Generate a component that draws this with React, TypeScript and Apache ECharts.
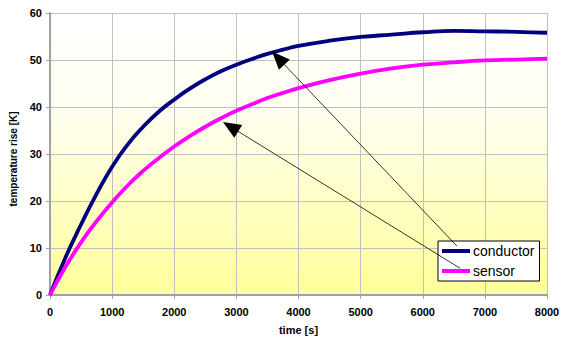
import React, { useEffect, useRef } from "react";
import * as echarts from "echarts";

const timeS = [0, 250, 500, 750, 1000, 1250, 1500, 1750, 2000, 2250, 2500, 2750, 3000, 3250, 3500, 3750, 4000, 4500, 5000, 5500, 6000, 6500, 7000, 7500, 8000];
const conductor = [0, 8, 15, 21.5, 27.3, 32, 35.8, 39, 41.6, 43.9, 45.9, 47.6, 49.0, 50.2, 51.3, 52.2, 53.0, 54.1, 54.9, 55.4, 55.9, 56.2, 56.1, 56.0, 55.8];
const sensor = [0, 6, 11.2, 15.7, 19.7, 23.3, 26.4, 29.1, 31.6, 33.8, 35.8, 37.6, 39.2, 40.6, 41.9, 43, 44, 45.7, 47.1, 48.2, 49, 49.5, 49.9, 50.1, 50.3];
const conductorArrow = [[6551, 10.4], [3673, 50.4]];
const sensorArrow = [[6600, 5.7], [2907, 35.8]];

export default function App() {
  const ref = useRef<HTMLDivElement>(null);
  useEffect(() => {
    const chart = echarts.init(ref.current!, null, { renderer: "svg" });
    const font = "Arial, 'Liberation Sans', sans-serif";
    chart.setOption({
      animation: false,
      textStyle: { fontFamily: font },
      grid: {
        left: 50, right: 21, top: 13, bottom: 44,
        show: true,
        borderWidth: 0,
        backgroundColor: {
          type: "linear", x: 0, y: 0, x2: 0, y2: 1,
          colorStops: [
            { offset: 0, color: "#ffffff" },
            { offset: 0.35, color: "#fefef0" },
            { offset: 1, color: "#ffff99" },
          ],
        },
      },
      legend: {
        data: ["conductor", "sensor"],
        orient: "vertical",
        left: 438,
        top: 241,
        z: 3,
        backgroundColor: "#ffffff",
        borderColor: "#000000",
        borderWidth: 1,
        borderRadius: 0,
        padding: [3, 5, 3, 4],
        itemGap: 6,
        itemWidth: 28,
        itemHeight: 4,
        icon: "rect",
        textStyle: { fontSize: 14, color: "#000", fontFamily: font, padding: [0, 0, 0, -2] },
      },
      xAxis: {
        type: "value",
        min: 0, max: 8000, interval: 1000,
        name: "time [s]",
        nameLocation: "middle",
        nameGap: 29,
        nameTextStyle: { fontSize: 11, fontWeight: "bold", color: "#000", fontFamily: font },
        axisLine: { show: true, onZero: false, lineStyle: { color: "#a0a0a0", width: 2 } },
        axisTick: { show: true, length: 4, lineStyle: { color: "#a0a0a0", width: 1 } },
        axisLabel: { margin: 11, fontSize: 11, fontWeight: "bold", color: "#000", fontFamily: font, formatter: (v: number) => String(v) },
        splitLine: { show: true, lineStyle: { color: "#c0c0c0", width: 1 } },
      },
      yAxis: {
        type: "value",
        min: 0, max: 60, interval: 10,
        name: "temperature rise [K]",
        nameLocation: "middle",
        nameGap: 27,
        nameTextStyle: { fontSize: 10, fontWeight: "bold", color: "#000", fontFamily: font, padding: [0, 10, 0, 0] },
        axisLine: { show: true, lineStyle: { color: "#a0a0a0", width: 2 } },
        axisTick: { show: true, length: 4, lineStyle: { color: "#a0a0a0", width: 1 } },
        axisLabel: { margin: 8, fontSize: 11, fontWeight: "bold", color: "#000", fontFamily: font, formatter: (v: number) => String(v) },
        splitLine: { show: true, lineStyle: { color: "#c0c0c0", width: 1 } },
      },
      series: [
        {
          name: "conductor",
          type: "line",
          data: timeS.map((t, i) => [t, conductor[i]]),
          smooth: 0.5,
          showSymbol: false,
          symbol: "none",
          color: "#000080",
          lineStyle: { color: "#000080", width: 3.8 },
        },
        {
          name: "sensor",
          type: "line",
          data: timeS.map((t, i) => [t, sensor[i]]),
          smooth: 0.5,
          showSymbol: false,
          symbol: "none",
          color: "#ff00ff",
          lineStyle: { color: "#ff00ff", width: 3.8 },
        },
        {
          name: "arrows",
          type: "line",
          data: [],
          z: 10,
          markLine: {
            silent: true,
            z: 10,
            symbol: ["none", "triangle"],
            symbolSize: [15, 18],
            label: { show: false },
            lineStyle: { color: "#000000", width: 0.8, type: "solid" },
            itemStyle: { color: "#000000" },
            data: [
              [{ coord: conductorArrow[0] }, { coord: conductorArrow[1] }],
              [{ coord: sensorArrow[0] }, { coord: sensorArrow[1] }],
            ],
          },
        },
      ],
    });
    return () => chart.dispose();
  }, []);
  return <div ref={ref} style={{ width: 568, height: 340, position: "absolute", left: 0, top: 0 }} />;
}
